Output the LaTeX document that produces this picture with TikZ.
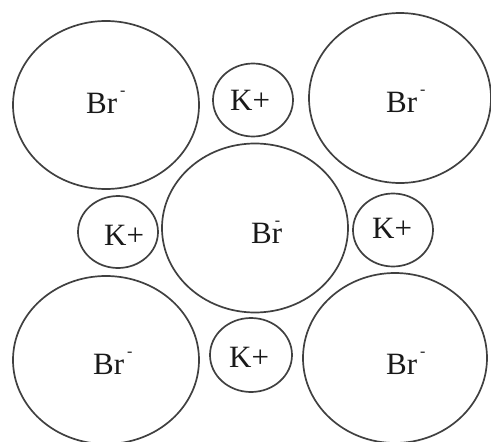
\documentclass[tikz,border=0pt]{standalone}
\usepackage{fontspec}
\setmainfont{Liberation Serif}
\usetikzlibrary{shapes.geometric}
\newcommand\ionminus{\kern3pt\raisebox{18pt}{\fontsize{16}{16}\selectfont -}}
\newcommand\ionminusover{\llap{\raisebox{18pt}{\fontsize{16}{16}\selectfont -}\kern2pt}}
\tikzset{
  ion/.style={draw=black!75, line width=1.7pt, ellipse, inner sep=0pt},
  big/.style={ion, minimum width=186pt, minimum height=168pt},
  small/.style={ion, minimum width=80pt, minimum height=73pt},
  lbl/.style={anchor=base west, inner sep=0pt, font=\fontsize{31}{31}\selectfont, text=black!90}
}
\begin{document}
\begin{tikzpicture}[x=1pt,y=-1pt]
\useasboundingbox (0,0) rectangle (491,442);
% large bromide ions
\node[big] (brTL) at (106,105) {};
\node[big, minimum width=182pt, minimum height=170pt] (brTR) at (400,98) {};
\node[big, minimum height=169pt] (brC) at (255,228) {};
\node[big] (brBL) at (106,360) {};
\node[big, minimum width=184pt, minimum height=170pt] (brBR) at (395,358) {};
% small potassium ions
\node[small] (kT) at (253,100) {};
\node[small, minimum height=72pt] (kL) at (118,232) {};
\node[small, minimum height=73pt] (kR) at (393,230) {};
\node[small, minimum width=82pt, minimum height=74pt] (kB) at (251,355) {};
% labels
\node[lbl] (tBrTL) at (86,113) {Br\ionminus};
\node[lbl] (tBrTR) at (386,112) {Br\ionminus};
\node[lbl] (tBrC) at (251,243) {Br\ionminusover};
\node[lbl] (tBrBL) at (93,374) {Br\ionminus};
\node[lbl] (tBrBR) at (386,374) {Br\ionminus};
\node[lbl] (tkT) at (230,110) {K+};
\node[lbl] (tkL) at (104,245) {K+};
\node[lbl] (tkR) at (372,238) {K+};
\node[lbl] (tkB) at (229,367) {K+};
\end{tikzpicture}
\end{document}
